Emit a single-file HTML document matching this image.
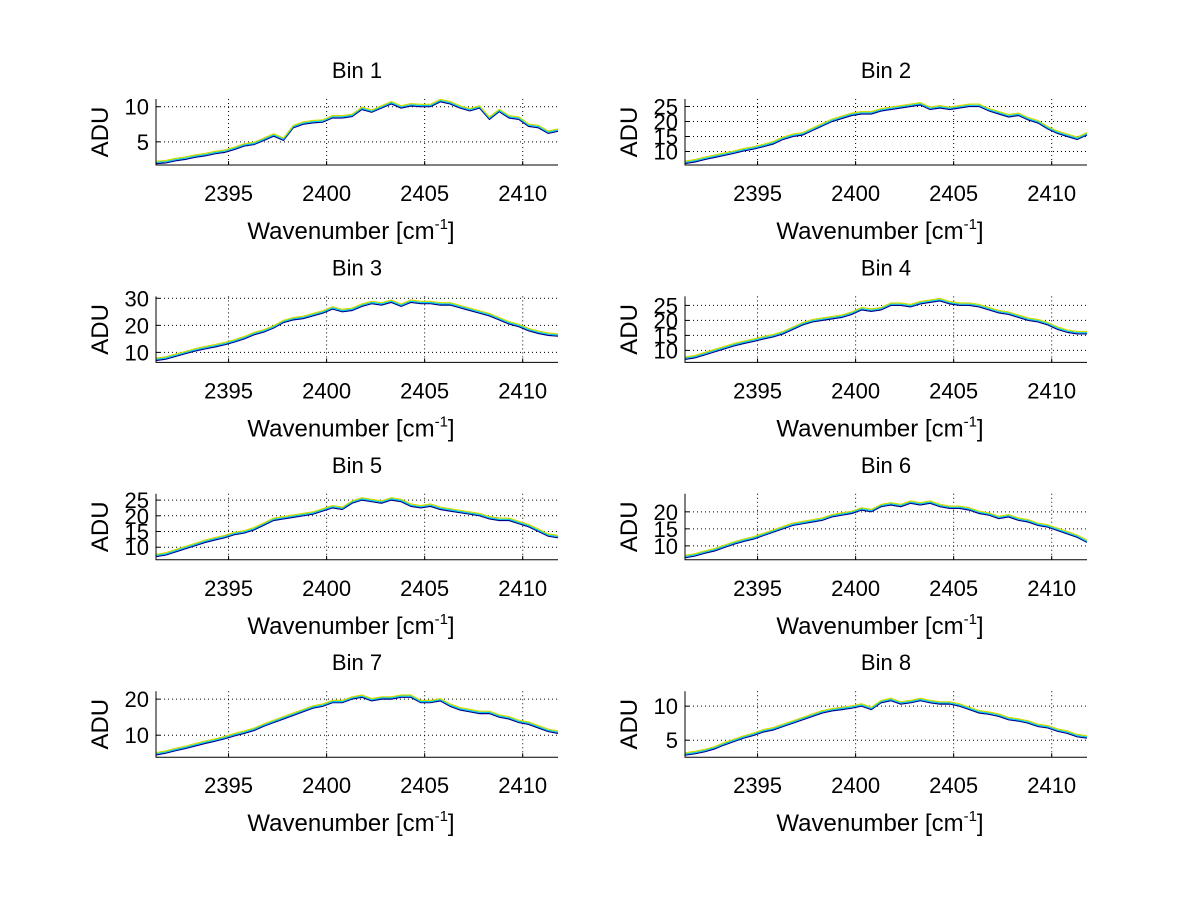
<!DOCTYPE html>
<html><head><meta charset="utf-8"><style>
body{margin:0;background:#fff}
svg{display:block;font-family:"Liberation Sans",sans-serif}
</style></head><body>
<svg id="fig" width="1200" height="901" viewBox="0 0 1200 901"></svg>
<script>
const wn=[2391.3,2391.8,2392.3,2392.8,2393.3,2393.8,2394.3,2394.8,2395.3,2395.8,2396.3,2396.8,2397.3,2397.8,2398.3,2398.8,2399.3,2399.8,2400.3,2400.8,2401.3,2401.8,2402.3,2402.8,2403.3,2403.8,2404.3,2404.8,2405.3,2405.8,2406.3,2406.8,2407.3,2407.8,2408.3,2408.8,2409.3,2409.8,2410.3,2410.8,2411.3,2411.8];
const bin1=[1.9,2.0,2.3,2.5,2.8,3.0,3.3,3.5,3.9,4.4,4.6,5.2,5.8,5.2,7.0,7.5,7.7,7.8,8.4,8.4,8.6,9.6,9.2,9.8,10.4,9.8,10.1,10.0,10.0,10.7,10.4,9.8,9.4,9.8,8.2,9.3,8.4,8.2,7.2,7.0,6.2,6.5];
const bin2=[6,6.5,7.3,8,8.7,9.4,10.2,10.8,11.6,12.5,14,15,15.5,17,18.5,20,21,22,22.5,22.5,23.5,24,24.5,25,25.5,24,24.5,24,24.5,25,25,23.5,22.5,21.5,22,20.5,19.5,17.5,16,15,14,15.5];
const bin3=[7,7.5,8.5,9.5,10.5,11.3,12,12.8,13.8,15,16.5,17.5,19,21,22,22.5,23.5,24.5,26,25,25.5,27,28,27.5,28.5,27,28.5,28,28,27.5,27.5,26.5,25.5,24.5,23.5,22,20.5,19.5,18,17,16.3,16];
const bin4=[7,7.5,8.5,9.5,10.5,11.5,12.3,13,13.8,14.5,15.5,17,18.5,19.5,20,20.5,21,22,23.5,23,23.5,25,25,24.5,25.5,26,26.5,25.5,25,25,24.5,23.5,22.5,22,21,20,19.5,18.5,17,16,15.5,15.5];
const bin5=[7,7.5,8.5,9.5,10.5,11.5,12.3,13,14,14.5,15.5,17,18.5,19,19.5,20,20.5,21.5,22.5,22,24,25,24.5,24,25,24.5,23,22.5,23,22,21.5,21,20.5,20,19,18.5,18.5,17.5,16.5,15,13.5,13];
const bin6=[6.5,7,7.8,8.5,9.5,10.5,11.3,12,13,14,15,16,16.5,17,17.5,18.5,19,19.5,20.5,20,21.5,22,21.5,22.5,22,22.5,21.5,21,21,20.5,19.5,19,18,18.5,17.5,17,16,15.5,14.5,13.5,12.5,11];
const bin7=[4.5,5,5.7,6.3,7,7.7,8.3,9,9.8,10.5,11.3,12.5,13.5,14.5,15.5,16.5,17.5,18,19,19,20,20.5,19.5,20,20,20.5,20.5,19,19,19.5,18,17,16.5,16,16,15,14.5,13.5,13,12,11,10.5];
const bin8=[2.8,3,3.3,3.7,4.3,4.8,5.3,5.7,6.2,6.5,7,7.5,8,8.5,9,9.3,9.5,9.7,10,9.5,10.5,10.8,10.3,10.5,10.8,10.5,10.3,10.3,10,9.5,9,8.8,8.5,8,7.8,7.5,7,6.8,6.3,6,5.5,5.3];
const bins=[bin1,bin2,bin3,bin4,bin5,bin6,bin7,bin8];
const titles=["Bin 1","Bin 2","Bin 3","Bin 4","Bin 5","Bin 6","Bin 7","Bin 8"];
const ylims=[[1.7,11.1],[5.5,27.5],[6.3,30.7],[6,28],[6,27],[5.9,25.3],[3.9,22.2],[2.5,12.2]];
const yticks=[[5,10],[10,15,20,25],[10,20,30],[10,15,20,25],[10,15,20,25],[10,15,20],[10,20],[5,10]];
const xticks=[2395,2400,2405,2410];
const xlim=[2391.3,2411.8];
const seriesOffsetFrac=[0,0.018,0.036];
const seriesColors=["#00008f","#00c8e8","#d0dc00"];
const NS="http://www.w3.org/2000/svg";
const svg=document.getElementById('fig');
function mk(tag,attrs,parent){const e=document.createElementNS(NS,tag);for(const k in attrs)e.setAttribute(k,attrs[k]);(parent||svg).appendChild(e);return e;}
for(let i=0;i<8;i++){
  const col=i%2,row=Math.floor(i/2);
  const L=col?685:156,R=col?1087:558,T=99+row*197.4,B=165+row*197.4;
  const g=mk('g',{});
  
  
  const sx=v=>L+(v-xlim[0])/(xlim[1]-xlim[0])*(R-L);
  const sy=v=>B-(v-ylims[i][0])/(ylims[i][1]-ylims[i][0])*(B-T);
  xticks.forEach(t=>{const x=sx(t);
    const gl=mk('line',{x1:x,x2:x,y1:T,y2:B,stroke:'#000','stroke-width':1,'stroke-dasharray':'1,3'},g);
    
    mk('line',{x1:x,x2:x,y1:B,y2:B-4,stroke:'#000'},g);
    const tl=mk('text',{x:x,y:B+36,'font-size':22,'text-anchor':'middle'},g);tl.textContent=t;
    });
  yticks[i].forEach(t=>{const y=sy(t);
    const gl=mk('line',{x1:L,x2:R,y1:y,y2:y,stroke:'#000','stroke-width':1,'stroke-dasharray':'1,3'},g);
    
    mk('line',{x1:L,x2:L+4,y1:y,y2:y,stroke:'#000'},g);
    const tl=mk('text',{x:L-7,y:y+8,'font-size':22,'text-anchor':'end'},g);tl.textContent=t;
    });
  const span=ylims[i][1]-ylims[i][0];
  for(let s=0;s<3;s++){
    const d=bins[i].map((v,k)=>(k?'L':'M')+sx(wn[k]).toFixed(1)+','+sy(v+seriesOffsetFrac[s]*span).toFixed(1)).join('');
    const p=mk('path',{d:d,fill:'none',stroke:seriesColors[s],'stroke-width':1.2},g);
    
    
  }
  mk('path',{d:`M${L},${T}V${B}H${R}`,fill:'none',stroke:'#000','stroke-width':1},g);
  const ti=mk('text',{x:(L+R)/2,y:T-21,'font-size':22,'text-anchor':'middle'},g);ti.textContent=titles[i];
  
  const yl=mk('text',{x:0,y:0,'font-size':24,'text-anchor':'middle',transform:`translate(${L-48},${(T+B)/2}) rotate(-90)`},g);yl.textContent='ADU';
  
  const xl=mk('text',{x:(L+R)/2-6,y:B+74,'font-size':24,'text-anchor':'middle'},g);
  xl.textContent='Wavenumber [cm';
  const sup=mk('tspan',{dy:-10,'font-size':15},xl);sup.textContent='-1';
  const cl=mk('tspan',{dy:10},xl);cl.textContent=']';
  
}
</script>
</body></html>
